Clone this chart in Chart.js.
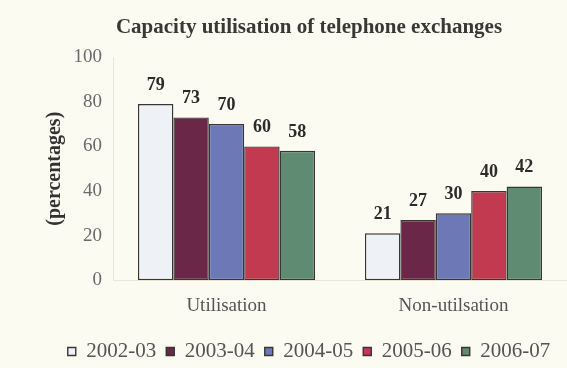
<!DOCTYPE html>
<html>
<head>
<meta charset="utf-8">
<script src="https://cdn.jsdelivr.net/npm/chart.js@4.4.0/dist/chart.umd.min.js"></script>
<style>
  html, body { margin: 0; padding: 0; background: #fcfbf2; }
  #wrap { position: relative; width: 567px; height: 368px; }
</style>
</head>
<body>
<div id="wrap"><canvas id="chart" width="567" height="368"></canvas></div>
<script>
const categories = ['Utilisation', 'Non-utilsation'];
const years = ['2002-03', '2003-04', '2004-05', '2005-06', '2006-07'];
const util2002 = [79, 21];
const util2003 = [73, 27];
const util2004 = [70, 30];
const util2005 = [60, 40];
const util2006 = [58, 42];
const yTicks = [0, 20, 40, 60, 80, 100];

const fills = ['#eef2f6', '#6b2747', '#6c79b6', '#c13a50', '#5f8b72'];
const seriesValues = [util2002, util2003, util2004, util2005, util2006];

// value labels above each bar
const valueLabels = {
  id: 'valueLabels',
  afterDatasetsDraw(chart) {
    const ctx = chart.ctx;
    ctx.save();
    ctx.font = 'bold 18px "Liberation Serif"';
    ctx.fillStyle = '#2e2a2a';
    ctx.textAlign = 'center';
    ctx.textBaseline = 'middle';
    chart.data.datasets.forEach((ds, i) => {
      chart.getDatasetMeta(i).data.forEach((bar, j) => {
        ctx.fillText(ds.data[j], bar.x, bar.y - 19);
      });
    });
    ctx.restore();
  }
};

new Chart(document.getElementById('chart'), {
  type: 'bar',
  data: {
    labels: categories,
    datasets: years.map((y, i) => ({
      label: y,
      data: seriesValues[i],
      backgroundColor: fills[i],
      borderColor: '#3a3535',
      borderWidth: 1.4,
      borderSkipped: false,
      categoryPercentage: 0.78,
      barPercentage: 1.0
    }))
  },
  options: {
    responsive: false,
    animation: false,
    layout: { padding: { left: 51, right: 0, top: 0, bottom: -4 } },
    plugins: {
      title: {
        display: true,
        text: 'Capacity utilisation of telephone exchanges',
        color: '#3a3835',
        font: { family: 'Liberation Serif', size: 21, weight: 'bold' },
        padding: { top: 15, bottom: 17 }
      },
      legend: {
        position: 'bottom',
        labels: {
          boxWidth: 8,
          boxHeight: 8,
          color: '#555',
          padding: 10,
          font: { family: 'Liberation Serif', size: 21 }
        }
      },
      tooltip: { enabled: false }
    },
    scales: {
      x: {
        grid: { display: false, drawTicks: false },
        border: { color: '#ebe7d8' },
        ticks: {
          color: '#555',
          padding: 14,
          font: { family: 'Liberation Serif', size: 19 }
        }
      },
      y: {
        min: 0,
        max: 100,
        afterBuildTicks(axis) { axis.ticks = yTicks.map(v => ({ value: v })); },
        afterFit(axis) { axis.width = 62; },
        grid: { display: false, drawTicks: false },
        border: { color: '#ebe7d8' },
        ticks: {
          color: '#6a6a6a',
          padding: 11,
          font: { family: 'Liberation Serif', size: 19 }
        },
        title: {
          display: true,
          text: '(percentages)',
          color: '#333',
          padding: { top: -8, bottom: 0 },
          font: { family: 'Liberation Serif', size: 20, weight: 'bold' }
        }
      }
    }
  },
  plugins: [valueLabels]
});
</script>
</body>
</html>
